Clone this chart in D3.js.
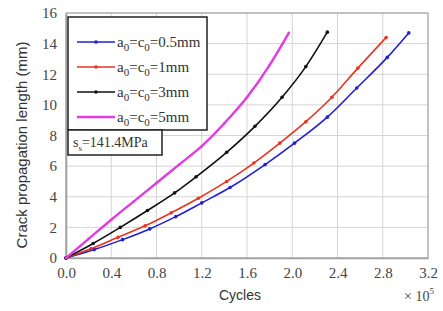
<!DOCTYPE html>
<html>
<head>
<meta charset="utf-8">
<script src="https://cdn.jsdelivr.net/npm/d3@7"></script>
<style>
  body { margin: 0; background: #fff; }
  svg { display: block; }
</style>
</head>
<body>
<script>
// cycles in units of 10^5, crack length in mm
var cyclesBlue = [0, 0.25, 0.5, 0.74, 0.97, 1.2, 1.45, 1.76, 2.02, 2.31, 2.57, 2.84, 3.03];
var lenBlue    = [0, 0.55, 1.2, 1.9, 2.7, 3.6, 4.6, 6.1, 7.5, 9.2, 11.1, 13.1, 14.7];

var cyclesRed = [0, 0.22, 0.46, 0.7, 0.93, 1.17, 1.42, 1.66, 1.89, 2.12, 2.35, 2.58, 2.83];
var lenRed    = [0, 0.6, 1.35, 2.1, 2.95, 3.9, 5.0, 6.2, 7.5, 8.9, 10.5, 12.4, 14.4];

var cyclesBlack = [0, 0.24, 0.48, 0.72, 0.96, 1.15, 1.42, 1.67, 1.91, 2.12, 2.31];
var lenBlack    = [0, 0.95, 2.0, 3.1, 4.25, 5.3, 6.9, 8.6, 10.5, 12.5, 14.75];

var cyclesMagenta = [0, 0.2, 0.4, 0.6, 0.8, 1.0, 1.2, 1.4, 1.6, 1.8, 1.97];
var lenMagenta    = [0, 1.25, 2.5, 3.7, 4.9, 6.1, 7.3, 8.8, 10.5, 12.6, 14.7];

var xTicks = [0, 0.4, 0.8, 1.2, 1.6, 2.0, 2.4, 2.8, 3.2];
var yTicks = [0, 2, 4, 6, 8, 10, 12, 14, 16];

var seriesNames = ["0.5mm", "1mm", "3mm", "5mm"];
var stressLabel = "=141.4MPa";

(function() {
    var w = 443, h = 311;
    var plotL = 66, plotR = 428, plotT = 13, plotB = 258;
    var serif = "'Liberation Serif', 'DejaVu Serif', serif";
    var sans = "'Liberation Sans', Arial, sans-serif";

    var series = [
        {x: cyclesBlue, y: lenBlue, color: "#1f1fd6", width: 1.6, r: 1.8},
        {x: cyclesRed, y: lenRed, color: "#e8331f", width: 1.6, r: 1.8},
        {x: cyclesBlack, y: lenBlack, color: "#111111", width: 1.6, r: 1.8},
        {x: cyclesMagenta, y: lenMagenta, color: "#e23be2", width: 2.4, r: 1.3}
    ];

    var svg = d3.select("body").append("svg")
        .attr("width", w)
        .attr("height", h);

    var x = d3.scaleLinear().domain([0, 3.2]).range([plotL, plotR]);
    var y = d3.scaleLinear().domain([0, 16]).range([plotB, plotT]);

    // grid
    svg.append("g").selectAll("line")
        .data(xTicks)
        .enter()
        .append("line")
        .attr("x1", function(d) { return x(d); })
        .attr("x2", function(d) { return x(d); })
        .attr("y1", plotT)
        .attr("y2", plotB)
        .attr("stroke", "#d4d4d4")
        .attr("stroke-width", 1);

    svg.append("g").selectAll("line")
        .data(yTicks)
        .enter()
        .append("line")
        .attr("x1", plotL)
        .attr("x2", plotR)
        .attr("y1", function(d) { return y(d); })
        .attr("y2", function(d) { return y(d); })
        .attr("stroke", "#d4d4d4")
        .attr("stroke-width", 1);

    // frame
    svg.append("rect")
        .attr("x", plotL)
        .attr("y", plotT)
        .attr("width", plotR - plotL)
        .attr("height", plotB - plotT)
        .attr("fill", "none")
        .attr("stroke", "#a8a8a8")
        .attr("stroke-width", 1.2);

    // axes
    var xAxis = d3.axisBottom(x).tickValues(xTicks).tickSize(0).tickPadding(9)
        .tickFormat(d3.format(".1f"));
    var yAxis = d3.axisLeft(y).tickValues(yTicks).tickSize(0).tickPadding(9)
        .tickFormat(d3.format("d"));

    var gx = svg.append("g").attr("transform", "translate(0," + plotB + ")").call(xAxis);
    var gy = svg.append("g").attr("transform", "translate(" + plotL + ",0)").call(yAxis);
    [gx, gy].forEach(function(g) {
        g.select(".domain").attr("stroke", "#a0a0a0").attr("stroke-width", 1.6);
        g.selectAll("text")
            .attr("font-family", serif)
            .attr("font-size", 15)
            .attr("fill", "#444");
    });

    // lines
    var line = d3.line()
        .x(function(d) { return x(d[0]); })
        .y(function(d) { return y(d[1]); })
        .curve(d3.curveMonotoneX);

    series.forEach(function(s) {
        var pts = d3.zip(s.x, s.y);
        svg.append("path")
            .datum(pts)
            .attr("d", line)
            .attr("fill", "none")
            .attr("stroke", s.color)
            .attr("stroke-width", s.width);
        svg.append("g").selectAll("circle")
            .data(pts)
            .enter()
            .append("circle")
            .attr("cx", function(d) { return x(d[0]); })
            .attr("cy", function(d) { return y(d[1]); })
            .attr("r", s.r)
            .attr("fill", s.color);
    });

    // axis titles
    svg.append("text")
        .attr("transform", "translate(27,145) rotate(-90)")
        .attr("text-anchor", "middle")
        .attr("font-family", sans)
        .attr("font-size", 15)
        .attr("fill", "#333")
        .text("Crack propagation length (mm)");

    svg.append("text")
        .attr("x", 240)
        .attr("y", 300)
        .attr("text-anchor", "middle")
        .attr("font-family", sans)
        .attr("font-size", 14)
        .attr("fill", "#333")
        .text("Cycles");

    var mult = svg.append("text")
        .attr("x", 404)
        .attr("y", 301)
        .attr("font-family", serif)
        .attr("font-size", 14)
        .attr("fill", "#444");
    mult.append("tspan").text("\u00d7 10");
    mult.append("tspan").attr("dy", -7).attr("font-size", 9).text("5");

    // legend
    var lg = svg.append("g");
    lg.append("rect")
        .attr("x", 68).attr("y", 17)
        .attr("width", 139).attr("height", 113)
        .attr("fill", "#fff")
        .attr("stroke", "#222")
        .attr("stroke-width", 1.5);

    series.forEach(function(s, i) {
        var ly = 42 + i * 25;
        lg.append("line")
            .attr("x1", 77).attr("x2", 115)
            .attr("y1", ly).attr("y2", ly)
            .attr("stroke", s.color)
            .attr("stroke-width", s.width);
        lg.append("circle")
            .attr("cx", 96).attr("cy", ly).attr("r", s.r)
            .attr("fill", s.color);
        var t = lg.append("text")
            .attr("x", 117).attr("y", ly + 5)
            .attr("font-family", serif)
            .attr("font-size", 15)
            .attr("fill", "#333");
        t.append("tspan").text("a");
        t.append("tspan").attr("dy", 4).attr("font-size", 11).text("0");
        t.append("tspan").attr("dy", -4).text("=c");
        t.append("tspan").attr("dy", 4).attr("font-size", 11).text("0");
        t.append("tspan").attr("dy", -4).text("=" + seriesNames[i]);
    });

    lg.append("rect")
        .attr("x", 68).attr("y", 130)
        .attr("width", 94).attr("height", 25)
        .attr("fill", "#fff")
        .attr("stroke", "#222")
        .attr("stroke-width", 1.5);
    var st = lg.append("text")
        .attr("x", 73).attr("y", 147)
        .attr("font-family", serif)
        .attr("font-size", 14)
        .attr("fill", "#333");
    st.append("tspan").text("s");
    st.append("tspan").attr("dy", 4).attr("font-size", 9).text("s");
    st.append("tspan").attr("dy", -4).text(stressLabel);
})();
</script>
</body>
</html>
